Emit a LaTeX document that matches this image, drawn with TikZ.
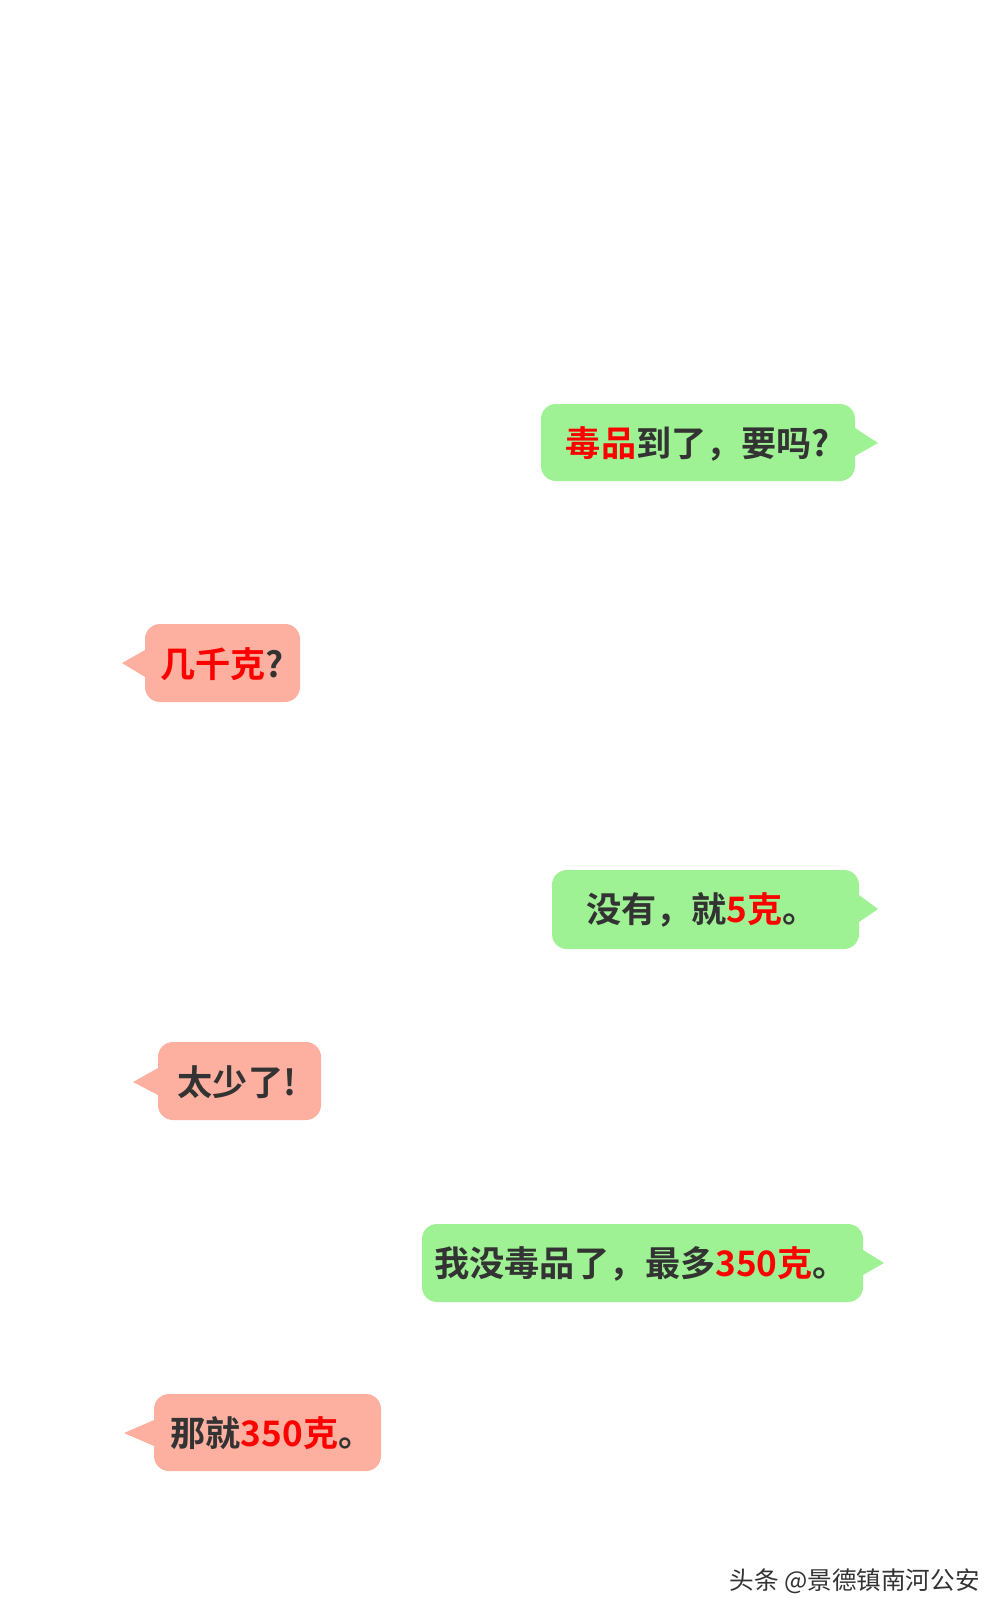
\documentclass[tikz,border=0pt]{standalone}
\usepackage{fontspec}
\setmainfont{Noto Sans CJK SC}[BoldFont={Noto Sans CJK SC Bold}]
\definecolor{gbub}{HTML}{9EF294}
\definecolor{sbub}{HTML}{FDB09F}
\definecolor{txt}{HTML}{333333}
\definecolor{hl}{HTML}{FF0000}
\newcommand{\hl}[1]{\textcolor{hl}{#1}}
\tikzset{x=0.02cm,y=-0.02cm,
 bub/.style={rounded corners=0.3cm},
 lbl/.style={font=\fontsize{20}{24}\selectfont\bfseries,text=txt,inner sep=0pt}}
\begin{document}
\begin{tikzpicture}
\useasboundingbox (0,0) rectangle (1000,1613);
% 1
\fill[gbub] (855,428)--(878,443)--(855,456)--cycle;
\fill[gbub,bub] (541,404) rectangle (855,481);
\node[lbl] (t1) at (698,444) {\hl{毒品}到了，要吗?};
% 2
\fill[sbub] (145,650)--(122,663)--(145,677)--cycle;
\fill[sbub,bub] (145,624) rectangle (300,702);
\node[lbl] (t2) at (222,664) {\hl{几千克}?};
% 3
\fill[gbub] (859,895)--(878,909)--(859,922)--cycle;
\fill[gbub,bub] (552,870) rectangle (859,949);
\node[lbl] (t3) at (702,910) {没有，就\hl{5克}。};
% 4
\fill[sbub] (158,1068)--(133,1082)--(158,1095)--cycle;
\fill[sbub,bub] (158,1042) rectangle (321,1120);
\node[lbl] (t4) at (237,1082) {太少了!};
% 5
\fill[gbub] (863,1250)--(884,1263)--(863,1275)--cycle;
\fill[gbub,bub] (422,1224) rectangle (863,1302);
\node[lbl] (t5) at (641,1264) {我没毒品了，最多\hl{350克}。};
% 6
\fill[sbub] (154,1420)--(124,1433)--(154,1446)--cycle;
\fill[sbub,bub] (154,1394) rectangle (381,1471);
\node[lbl] (t6) at (272,1433) {那就\hl{350克}。};
% watermark
\node[font=\fontsize{14}{16}\selectfont,text=txt,inner sep=0pt,anchor=east] (wm) at (980,1581) {头条 @景德镇南河公安};
\end{tikzpicture}
\end{document}
